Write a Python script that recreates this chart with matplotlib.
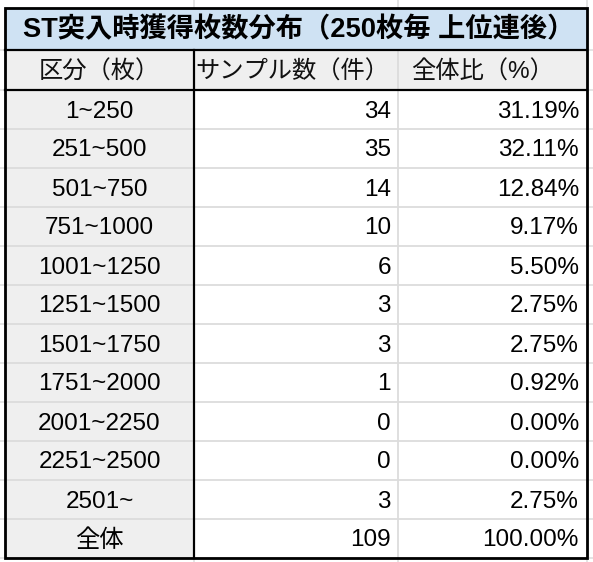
import matplotlib
matplotlib.use("Agg")
import matplotlib.pyplot as plt
from matplotlib.patches import Rectangle

plt.rcParams['font.family'] = ['Liberation Sans', 'Noto Sans CJK JP', 'DejaVu Sans']

title = "ST突入時獲得枚数分布（250枚毎 上位連後）"
headers = ["区分（枚）", "サンプル数（件）", "全体比（%）"]
categories = ["1~250", "251~500", "501~750", "751~1000", "1001~1250", "1251~1500",
              "1501~1750", "1751~2000", "2001~2250", "2251~2500", "2501~", "全体"]
counts = [34, 35, 14, 10, 6, 3, 3, 1, 0, 0, 3, 109]
ratios = [31.19, 32.11, 12.84, 9.17, 5.50, 2.75, 2.75, 0.92, 0.00, 0.00, 2.75, 100.00]

W, H = 593, 562
fig = plt.figure(figsize=(W / 100, H / 100), dpi=100)
ax = fig.add_axes([0, 0, 1, 1])
ax.set_xlim(0, W)
ax.set_ylim(H, 0)
ax.axis('off')

# geometry (pixels)
x0, x1, x2, x3 = 5, 194, 398, 587
y_top, y_title, y_head = 7.5, 50, 89.5
row_h = 39.0
n = len(categories)
y_bot = y_head + row_h * n

grid_c = '#dcdcdc'
px = 0.72  # points per pixel

# background spreadsheet grid
for x in (x1, x2, x3):
    ax.plot([x, x], [0, H], color=grid_c, lw=1.5 * px, zorder=0)
for yy in [y_title, y_head] + [y_head + row_h * i for i in range(1, n + 1)]:
    ax.plot([0, W], [yy, yy], color=grid_c, lw=1.5 * px, zorder=0)

# fills
ax.add_patch(Rectangle((x0, y_top), x3 - x0, y_title - y_top, facecolor='#cfe2f3', edgecolor='none', zorder=1))
ax.add_patch(Rectangle((x0, y_title), x3 - x0, y_head - y_title, facecolor='#efefef', edgecolor='none', zorder=1))
ax.add_patch(Rectangle((x0, y_head), x1 - x0, y_bot - y_head, facecolor='#efefef', edgecolor='none', zorder=1))
ax.add_patch(Rectangle((x1, y_head), x3 - x1, y_bot - y_head, facecolor='white', edgecolor='none', zorder=1))

# inner grid lines
for i in range(1, n):
    yy = y_head + row_h * i
    ax.plot([x0, x3], [yy, yy], color=grid_c, lw=1.8 * px, zorder=2)
ax.plot([x2, x2], [y_title, y_bot], color=grid_c, lw=1.8 * px, zorder=2)

# black lines
ax.plot([x1, x1], [y_title, y_bot], color='black', lw=2.2 * px, zorder=3)
ax.plot([x0, x3], [y_title, y_title], color='black', lw=2.2 * px, zorder=3)
ax.plot([x0, x3], [y_head, y_head], color='black', lw=2.2 * px, zorder=3)
ax.add_patch(Rectangle((x0, y_top), x3 - x0, y_bot - y_top, facecolor='none',
                       edgecolor='black', lw=2.8 * px, zorder=4))

fs = 17.5
tc = '#000000'
# title
ax.text((x0 + x3) / 2 + 3, (y_top + y_title) / 2 + 1.5, title, ha='center', va='center',
        fontsize=19.6, fontweight='bold', color=tc, zorder=5)
# headers
hc = (y_title + y_head) / 2 + 2
ax.text((x0 + x1) / 2, hc, headers[0], ha='center', va='center', fontsize=fs, color='#111111', zorder=5)
ax.text((x1 + x2) / 2 - 4, hc, headers[1], ha='center', va='center', fontsize=fs, color='#111111', zorder=5)
ax.text((x2 + x3) / 2 - 10, hc, headers[2], ha='center', va='center', fontsize=fs, color='#111111', zorder=5)

for i, (c, k, r) in enumerate(zip(categories, counts, ratios)):
    yc = y_head + row_h * i + row_h / 2 + 2.5
    ax.text((x0 + x1) / 2, yc, c, ha='center', va='center', fontsize=fs, color=tc, zorder=5)
    ax.text(x2 - 7, yc, f"{k}", ha='right', va='center', fontsize=fs, color=tc, zorder=5)
    ax.text(x3 - 8, yc, f"{r:.2f}%", ha='right', va='center', fontsize=fs, color=tc, zorder=5)

fig.savefig("out.png", dpi=100)
